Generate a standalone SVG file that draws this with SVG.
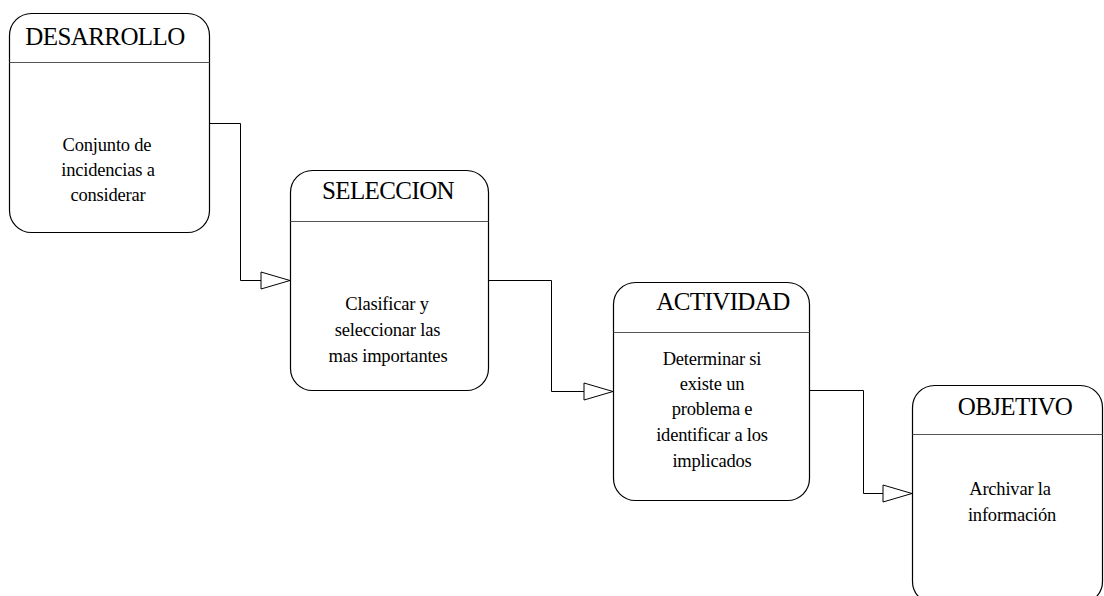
<svg xmlns="http://www.w3.org/2000/svg" width="1104" height="596" viewBox="0 0 1104 596">
  <defs>
    <marker id="hollow-arrow" viewBox="-1 -1 31 19" refX="29" refY="8.5" markerWidth="31" markerHeight="19" markerUnits="userSpaceOnUse" orient="auto" overflow="visible">
      <path d="M0,0 L29,8.5 L0,17 Z" fill="#fff" stroke="#000" stroke-width="1"/>
    </marker>
    <style>
      .box { fill: #fff; stroke: #000; stroke-width: 1.2; }
      .divider { stroke: #555; stroke-width: 1; }
      .title { font-family: "Liberation Serif", "Times New Roman", serif; font-size: 25px; fill: #000; text-anchor: middle; letter-spacing: -0.6px; }
      .body { font-family: "Liberation Serif", "Times New Roman", serif; font-size: 18.5px; fill: #000; text-anchor: middle; letter-spacing: -0.2px; }
      .conn { fill: none; stroke: #000; stroke-width: 1; marker-end: url(#hollow-arrow); }
    </style>
  </defs>
  <rect width="1104" height="596" fill="#fff"/>

  <!-- connectors between stages -->
  <g id="connectors">
    <polyline class="conn" points="209,123.5 240.5,123.5 240.5,280.5 290,280.5"/>
    <polyline class="conn" points="488,280.5 551.5,280.5 551.5,391.5 613,391.5"/>
    <polyline class="conn" points="809,390.5 863.5,390.5 863.5,493.5 912,493.5"/>
  </g>

  <g id="desarrollo">
    <rect class="box" x="9.5" y="13.5" width="200" height="219" rx="22" ry="22"/>
    <line class="divider" x1="9.5" y1="62.5" x2="209.5" y2="62.5"/>
    <text class="title" x="105" y="45">DESARROLLO</text>
    <text class="body" x="107" y="151">Conjunto de</text>
    <text class="body" x="108" y="176">incidencias a</text>
    <text class="body" x="108" y="201">considerar</text>
  </g>

  <g id="seleccion">
    <rect class="box" x="290.5" y="170.5" width="198" height="220" rx="22" ry="22"/>
    <line class="divider" x1="290.5" y1="221.5" x2="488.5" y2="221.5"/>
    <text class="title" x="388" y="199">SELECCION</text>
    <text class="body" x="387" y="310">Clasificar y</text>
    <text class="body" x="387.5" y="336">seleccionar las</text>
    <text class="body" x="388" y="362">mas importantes</text>
  </g>

  <g id="actividad">
    <rect class="box" x="613.5" y="282.5" width="196" height="218" rx="22" ry="22"/>
    <line class="divider" x1="613.5" y1="332.5" x2="809.5" y2="332.5"/>
    <text class="title" x="723" y="310">ACTIVIDAD</text>
    <text class="body" x="712" y="365">Determinar si</text>
    <text class="body" x="712" y="390">existe un</text>
    <text class="body" x="712" y="415">problema e</text>
    <text class="body" x="712" y="441">identificar a los</text>
    <text class="body" x="712" y="467">implicados</text>
  </g>

  <g id="objetivo">
    <rect class="box" x="912.5" y="385.5" width="190" height="218" rx="22" ry="22"/>
    <line class="divider" x1="912.5" y1="434.5" x2="1102.5" y2="434.5"/>
    <text class="title" x="1015" y="415">OBJETIVO</text>
    <text class="body" x="1010" y="495">Archivar la</text>
    <text class="body" x="1012" y="521">información</text>
  </g>
</svg>
